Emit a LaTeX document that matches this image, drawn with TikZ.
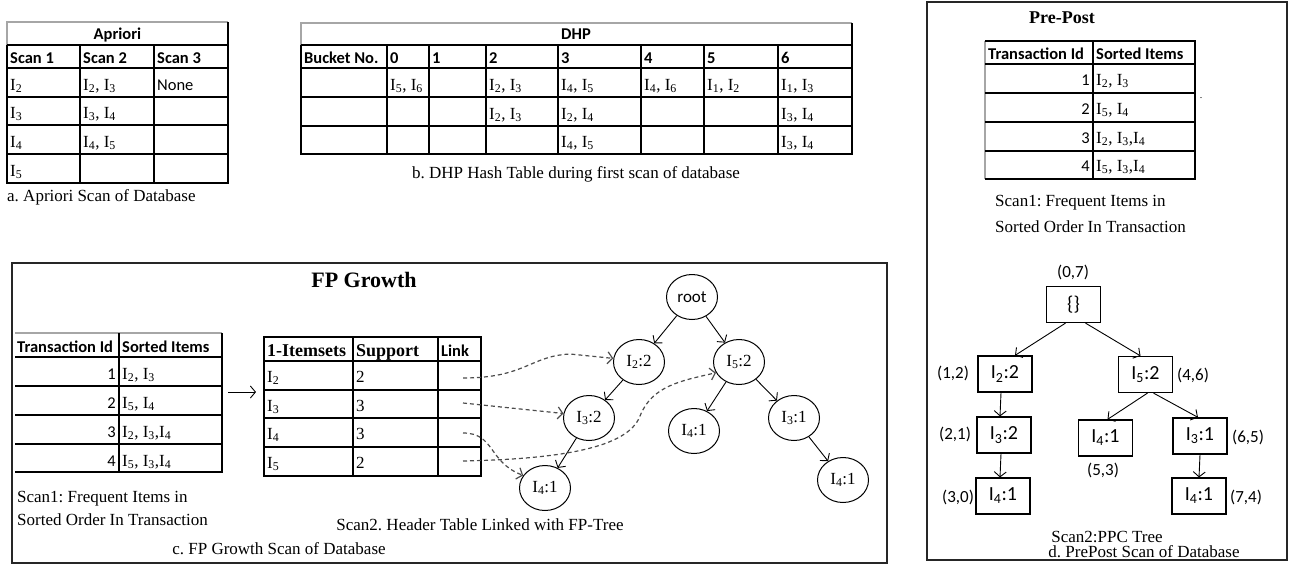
\documentclass[tikz,border=0pt]{standalone}
\usepackage{fontspec}
\setmainfont{Liberation Serif}
\newfontfamily\calib{Carlito}
\usetikzlibrary{arrows.meta,shapes.geometric}

\newcommand\fsz[1]{\fontsize{#1}{#1}\selectfont}
\newcommand\Iv[1]{I\textsubscript{#1}}
\frenchspacing

\begin{document}
\begin{tikzpicture}[x=1pt,y=-1pt,
  tgrid/.style={line width=1.4pt, black},
  lgrid/.style={line width=1.2pt, black!35},
  tframe/.style={line width=1.4pt, black!85},
  hd/.style={anchor=base west, inner sep=0pt, font=\calib\bfseries\fsz{16.5}},
  ttl/.style={anchor=base, inner sep=0pt, font=\calib\bfseries\fsz{16.5}},
  it/.style={anchor=base west, inner sep=0pt, font=\fsz{17}},
  cw/.style={anchor=base west, inner sep=0pt, font=\calib\fsz{16.5}},
  num/.style={anchor=base east, inner sep=0pt, font=\calib\fsz{16.5}},
  captxt/.style={inner sep=0pt, font=\fsz{17}},
  tbh/.style={anchor=base west, inner sep=0pt, font=\bfseries\fsz{18}},
  fpn/.style={draw, ellipse, line width=1pt, minimum width=51pt, minimum height=45pt, inner sep=0pt, font=\fsz{17}},
  ppn/.style={draw, rectangle, line width=1.2pt, minimum width=54pt, minimum height=36pt, inner sep=0pt, font=\calib\fsz{20}},
  ppl/.style={inner sep=0pt, font=\calib\fsz{17}},
  tedge/.style={line width=0.9pt, -{Straight Barb[length=5pt,width=12pt]}},
  dlink/.style={line width=1.2pt, black!70, dash pattern=on 4pt off 3pt, -{Straight Barb[length=5pt,width=12pt]}},
]
\useasboundingbox (0,0) rectangle (1289,565);

% ---------------- a. Apriori ----------------
\draw[lgrid] (7,45) -- (7,22) -- (228,22);
\draw[tgrid] (228,22) -- (228,183) -- (7,183) -- (7,45);
\foreach \y in {45,68,97,125,154} \draw[tgrid] (7,\y) -- (228,\y);
\draw[tgrid] (80,45) -- (80,183);
\draw[tgrid] (154,45) -- (154,183);
\node[ttl] (apT) at (117.5,39) {Apriori};
\node[hd] (apH1) at (10,63) {Scan 1};
\node[hd] (apH2) at (83,63) {Scan 2};
\node[hd] (apH3) at (157,63) {Scan 3};
\node[it] (ap11) at (10,90) {\Iv{2}};
\node[it] (ap12) at (83,90) {\Iv{2}, \Iv{3}};
\node[cw] (ap13) at (157,90) {None};
\node[it] (ap21) at (10,118) {\Iv{3}};
\node[it] (ap22) at (83,118) {\Iv{3}, \Iv{4}};
\node[it] (ap31) at (10,147) {\Iv{4}};
\node[it] (ap32) at (83,147) {\Iv{4}, \Iv{5}};
\node[it] (ap41) at (10,176) {\Iv{5}};
\node[captxt, anchor=base west] (apC) at (7,201) {a. Apriori Scan of Database};

% ---------------- b. DHP ----------------
\draw[lgrid] (301,45) -- (301,23) -- (852,23);
\draw[tgrid] (852,23) -- (852,154) -- (301,154) -- (301,45);
\foreach \y in {45,68,97,126} \draw[tgrid] (301,\y) -- (852,\y);
\foreach \x in {387,429,486,558,641,704,778} \draw[tgrid] (\x,45) -- (\x,154);
\node[ttl] (dhT) at (576,39) {DHP};
\node[hd] (dhB) at (304,63) {Bucket No.};
\foreach \x/\t [count=\i from 0] in {390/0,432/1,489/2,561/3,644/4,707/5,781/6}
  \node[hd] (dhH\i) at (\x,63) {\t};
\node[it] (dh10) at (390,90) {\Iv{5}, \Iv{6}};
\node[it] (dh12) at (489,90) {\Iv{2}, \Iv{3}};
\node[it] (dh13) at (561,90) {\Iv{4}, \Iv{5}};
\node[it] (dh14) at (644,90) {\Iv{4}, \Iv{6}};
\node[it] (dh15) at (707,90) {\Iv{1}, \Iv{2}};
\node[it] (dh16) at (781,90) {\Iv{1}, \Iv{3}};
\node[it] (dh22) at (489,119) {\Iv{2}, \Iv{3}};
\node[it] (dh23) at (561,119) {\Iv{2}, \Iv{4}};
\node[it] (dh26) at (781,119) {\Iv{3}, \Iv{4}};
\node[it] (dh33) at (561,147) {\Iv{4}, \Iv{5}};
\node[it] (dh36) at (781,147) {\Iv{3}, \Iv{4}};
\node[captxt, anchor=base] (dhC) at (576,178) {b. DHP Hash Table during first scan of database};

% ---------------- c. FP Growth ----------------
\draw[tframe] (12,263) rectangle (887,563);
\node[captxt, anchor=base, font=\bfseries\fsz{22}] (fpT) at (364,287) {FP Growth};

% transactions
\draw[lgrid] (15,333) -- (222,333);
\draw[tgrid] (222,333) -- (222,472) -- (15,472);
\foreach \y in {357,386,415,444} \draw[tgrid] (15,\y) -- (222,\y);
\draw[tgrid] (119,333) -- (119,472);
\node[hd] (ftH1) at (17,352) {Transaction Id};
\node[hd] (ftH2) at (122,352) {Sorted Items};
\node[num] (ftN1) at (116,379) {1};
\node[num] (ftN2) at (116,408) {2};
\node[num] (ftN3) at (116,437) {3};
\node[num] (ftN4) at (116,466) {4};
\node[it] (ftS1) at (122,379) {\Iv{2}, \Iv{3}};
\node[it] (ftS2) at (122,408) {\Iv{5}, \Iv{4}};
\node[it] (ftS3) at (122,437) {\Iv{2}, \Iv{3},\Iv{4}};
\node[it] (ftS4) at (122,466) {\Iv{5}, \Iv{3},\Iv{4}};
\node[captxt, anchor=base west] (ftC1) at (17,502) {Scan1: Frequent Items in};
\node[captxt, anchor=base west] (ftC2) at (17,525) {Sorted Order In Transaction};

\coordinate (arS) at (228,392);
\coordinate (arE) at (256,392);
\draw[tedge] (arS) -- (arE);

% header table
\draw[tgrid] (264,337) rectangle (481,476);
\foreach \y in {361,390,418,447} \draw[tgrid] (264,\y) -- (481,\y);
\draw[tgrid] (353,337) -- (353,476);
\draw[tgrid] (438,337) -- (438,476);
\node[tbh] (htH1) at (267,356) {1-Itemsets};
\node[tbh] (htH2) at (356,356) {Support};
\node[hd] (htH3) at (441,356) {Link};
\node[it] (htI2) at (267,382) {\Iv{2}};
\node[it] (htI3) at (267,411) {\Iv{3}};
\node[it] (htI4) at (267,439) {\Iv{4}};
\node[it] (htI5) at (267,468) {\Iv{5}};
\node[it] (htS2) at (356,382) {2};
\node[it] (htS3) at (356,411) {3};
\node[it] (htS4) at (356,439) {3};
\node[it] (htS5) at (356,468) {2};

% FP-tree
\node[fpn, font=\calib\fsz{17}] (root) at (692,297) {root};
\node[fpn] (fI2) at (639,362) {\Iv{2}:2};
\node[fpn] (fI5) at (739,362) {\Iv{5}:2};
\node[fpn] (fI3a) at (589,418) {\Iv{3}:2};
\node[fpn] (fI4m) at (694,431) {\Iv{4}:1};
\node[fpn] (fI3b) at (794,418) {\Iv{3}:1};
\node[fpn] (fI4a) at (545,488) {\Iv{4}:1};
\node[fpn] (fI4b) at (843,480) {\Iv{4}:1};

\draw[tedge] (root) -- (fI2);
\draw[tedge] (root) -- (fI5);
\draw[tedge] (fI2) -- (fI3a);
\draw[tedge] (fI5) -- (fI4m);
\draw[tedge] (fI5) -- (fI3b);
\draw[tedge] (fI3a) -- (fI4a);
\draw[tedge] (fI3b) -- (fI4b);

% node links from the header table
\coordinate (lk2) at (463,378);
\coordinate (lk3) at (463,403);
\coordinate (lk4) at (463,433);
\coordinate (lk5) at (463,461);
\draw[dlink] (lk2) .. controls (525,378) and (530,356) .. (570,354) -- (fI2.172);
\draw[dlink] (lk3) -- (fI3a.170);
\draw[dlink] (lk4) .. controls (495,433) and (488,462) .. (fI4a.150);
\draw[dlink] (lk5) .. controls (560,459) and (628,448) .. (640,416)
                 .. controls (652,386) and (680,381) .. (fI5.205);

\node[captxt, anchor=base] (htC) at (480,530) {Scan2. Header Table Linked with FP-Tree};
\node[captxt, anchor=base] (fpC) at (279,554) {c. FP Growth Scan of Database};

% ---------------- d. PrePost ----------------
\draw[tframe] (927,2) rectangle (1287,560);
\node[captxt, anchor=base, font=\bfseries\fsz{18}] (ppT) at (1062,23) {Pre-Post};

\draw[lgrid] (985,41) -- (985,179);
\draw[tgrid] (985,41) -- (1195,41) -- (1195,179) -- (985,179);
\foreach \y in {64,93,122,151} \draw[tgrid] (985,\y) -- (1195,\y);
\draw[tgrid] (1093,41) -- (1093,179);
\node[hd] (ptH1) at (988,59) {Transaction Id};
\node[hd] (ptH2) at (1096,59) {Sorted Items};
\node[num] (ptN1) at (1090,85) {1};
\node[num] (ptN2) at (1090,114) {2};
\node[num] (ptN3) at (1090,143) {3};
\node[num] (ptN4) at (1090,171) {4};
\node[it] (ptS1) at (1096,85) {\Iv{2}, \Iv{3}};
\node[it] (ptS2) at (1096,114) {\Iv{5}, \Iv{4}};
\node[it] (ptS3) at (1096,143) {\Iv{2}, \Iv{3},\Iv{4}};
\node[it] (ptS4) at (1096,171) {\Iv{5}, \Iv{3},\Iv{4}};
\node[captxt, anchor=base, font=\fsz{10}] (ptDot) at (1201,98) {.};
\node[captxt, anchor=base west] (ptC1) at (995,206) {Scan1: Frequent Items in};
\node[captxt, anchor=base west] (ptC2) at (995,232) {Sorted Order In Transaction};

% PPC tree
\node[ppn] (p0) at (1073.5,304.5) {\{\}};
\node[ppn] (pI2) at (1005,374) {\Iv{2}:2};
\node[ppn] (pI5) at (1145.5,374.5) {\Iv{5}:2};
\node[ppn] (pI3a) at (1004,435) {\Iv{3}:2};
\node[ppn] (pI4m) at (1105.5,438) {\Iv{4}:1};
\node[ppn] (pI3b) at (1200,436) {\Iv{3}:1};
\node[ppn] (pI4a) at (1003,496) {\Iv{4}:1};
\node[ppn] (pI4b) at (1199,496) {\Iv{4}:1};

\node[ppl] (l0) at (1073,272) {(0,7)};
\node[ppl] (l12) at (953,373) {(1,2)};
\node[ppl] (l46) at (1193,375) {(4,6)};
\node[ppl] (l21) at (955,434) {(2,1)};
\node[ppl] (l53) at (1103,470) {(5,3)};
\node[ppl] (l65) at (1248,437) {(6,5)};
\node[ppl] (l30) at (958,497) {(3,0)};
\node[ppl] (l74) at (1246,497) {(7,4)};

\draw[tedge] ([xshift=-8pt]p0.south) -- ([xshift=10pt]pI2.north);
\draw[tedge] ([xshift=12pt]p0.south) -- ([xshift=-5pt]pI5.north);
\draw[tedge] ([xshift=-4pt]pI2.south) -- ([xshift=-4pt]pI3a.north);
\draw[tedge] ([xshift=2pt]pI5.south) -- ([xshift=2pt]pI4m.north);
\draw[tedge] ([xshift=8pt]pI5.south) -- ([xshift=-2pt]pI3b.north);
\draw[tedge] ([xshift=-3pt]pI3a.south) -- ([xshift=-3pt]pI4a.north);
\draw[tedge] (pI3b.south) -- (pI4b.north);

\node[captxt, anchor=base] (ppC1) at (1107,542) {Scan2:PPC Tree};
\node[captxt, anchor=base] (ppC2) at (1144,557) {d. PrePost Scan of Database};
\end{tikzpicture}
\end{document}
